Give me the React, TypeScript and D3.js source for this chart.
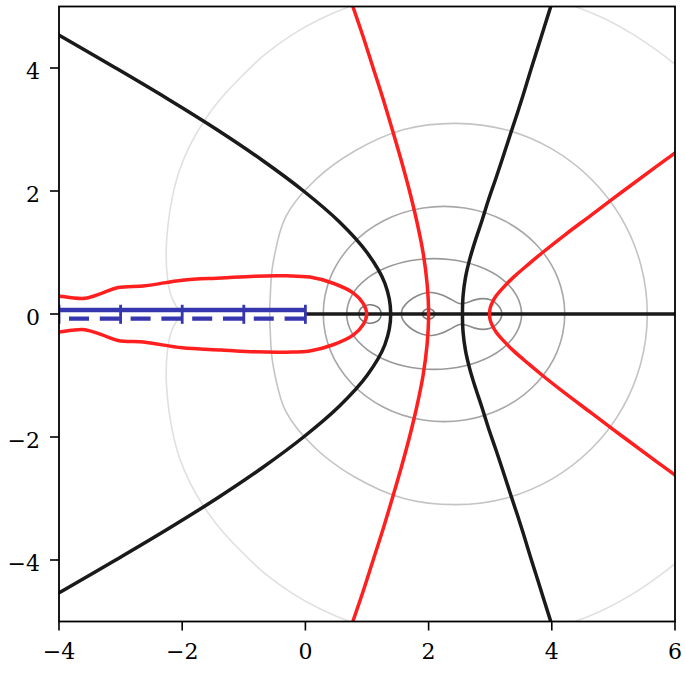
import React from 'react';
import * as d3 from 'd3';

type Pt = [number, number];

// axis ticks
const xTicks = [-4, -2, 0, 2, 4, 6];
const yTicks = [-4, -2, 0, 2, 4];
const cutTicks = [-4, -3, -2, -1, 0];

// upper halves (y >= 0), the picture is mirrored about y = 0
const blackLeft: Pt[] = [
  [-4.12, 4.6], [-3.94, 4.5], [-3.08, 4.0], [-2.24, 3.5], [-1.44, 3.0], [-0.7, 2.5], [-0.03, 2.0],
  [0.55, 1.5], [1.0, 1.0], [1.29, 0.5], [1.385, 0],
];
const blackRight: Pt[] = [
  [4.05, 5.2], [3.98, 4.99], [3.82, 4.48], [3.66, 3.97], [3.5, 3.45], [3.33, 2.93], [3.19, 2.5],
  [3.09, 2.2], [2.97, 1.85], [2.86, 1.5], [2.76, 1.2], [2.67, 0.9], [2.6, 0.6], [2.56, 0.3], [2.55, 0],
];
const redMid: Pt[] = [
  [0.7, 5.2], [0.77, 5.0], [0.94, 4.5], [1.1, 4.0], [1.26, 3.5], [1.41, 3.0], [1.555, 2.5],
  [1.69, 2.0], [1.81, 1.5], [1.91, 1.0], [1.975, 0.5], [2.0, 0],
];
const redLeft: Pt[] = [
  [-4.05, 0.3], [-3.98, 0.29], [-3.8, 0.265], [-3.58, 0.255], [-3.3, 0.34], [-3.04, 0.43], [-2.6, 0.46],
  [-2.0, 0.55], [-1.36, 0.585], [-0.82, 0.615], [-0.3, 0.62], [0.07, 0.6], [0.45, 0.5], [0.78, 0.34],
  [0.94, 0.17], [0.995, 0],
];
const redRight: Pt[] = [
  [6.25, 2.8], [5.7, 2.4], [5.16, 2.0], [4.63, 1.6], [4.23, 1.3], [3.85, 1.0], [3.61, 0.8],
  [3.38, 0.6], [3.23, 0.45], [3.1, 0.3], [3.04, 0.2], [3.0, 0.1], [2.99, 0],
];

// |f| contours, outermost first
const contourA1: Pt[] = [
  [1.2, 5.15], [0.72, 5.0], [0.25, 4.8], [-0.2, 4.55], [-0.68, 4.2], [-1.05, 3.85], [-1.4, 3.47],
  [-1.65, 3.13], [-1.87, 2.75], [-2.04, 2.35], [-2.16, 1.9], [-2.23, 1.45], [-2.26, 1.0], [-2.24, 0.6],
  [-2.18, 0.3], [-2.1, 0.13], [-2.0, 0],
];
const contourA2: Pt[] = [
  [4.0, 5.12], [4.38, 5.0], [4.86, 4.8], [5.3, 4.56], [5.7, 4.29], [6.0, 4.06], [6.1, 3.97],
];
const contourB: Pt[] = [
  [5.55, 0], [5.445, 0.8], [5.135, 1.55], [4.642, 2.192], [4.0, 2.685], [3.252, 2.995], [2.45, 3.1],
  [1.6, 3.0], [0.8, 2.65], [0.15, 2.17], [-0.32, 1.58], [-0.53, 0.8], [-0.57, 0.3], [-0.58, 0],
];
const contourC: Pt[] = [
  [4.21, 0], [4.092, 0.599], [3.751, 1.125], [3.23, 1.516], [2.59, 1.723], [1.91, 1.723], [1.27, 1.516],
  [0.749, 1.125], [0.408, 0.599], [0.29, 0],
];
const contourE: Pt[] = [
  [3.51, 0], [3.424, 0.308], [3.178, 0.579], [2.8, 0.779], [2.337, 0.886], [1.843, 0.886], [1.38, 0.779],
  [1.002, 0.579], [0.756, 0.308], [0.67, 0],
];
const contourD: Pt[] = [
  [3.19, 0], [3.17, 0.08], [3.1, 0.17], [3.0, 0.23], [2.88, 0.25], [2.75, 0.23], [2.6, 0.18],
  [2.5, 0.17], [2.38, 0.23], [2.22, 0.31], [2.05, 0.35], [1.9, 0.33], [1.75, 0.26], [1.63, 0.16],
  [1.57, 0.07], [1.56, 0],
];
const ring1: Pt[] = [[1.23, 0], [1.2, 0.09], [1.12, 0.14], [1.03, 0.15], [0.94, 0.12], [0.88, 0.06], [0.87, 0]];
const ring2: Pt[] = [[2.1, 0], [2.07, 0.06], [2.0, 0.085], [1.93, 0.06], [1.9, 0]];

const flip = (p: Pt): Pt => [p[0], -p[1]];
// pts end on the axis: continue into the mirrored lower half
const joinMirror = (pts: Pt[]): Pt[] => [...pts, ...pts.slice(0, -1).reverse().map(flip)];
// closed loop: upper half from right axis point to left axis point, then the lower half back
const closeMirror = (pts: Pt[]): Pt[] => [...pts, ...pts.slice(1, -1).reverse().map(flip)];

export default function App() {
  const width = 685;
  const height = 674;
  const left = 59, right = 675, top = 6.5, bottom = 621.5;

  const x = d3.scaleLinear().domain([-4, 6]).range([left, right]);
  const y = d3.scaleLinear().domain([-5, 5]).range([bottom, top]);

  const line = d3.line<Pt>()
    .x(d => x(d[0]))
    .y(d => y(d[1]))
    .curve(d3.curveCatmullRom.alpha(0.5));
  const closed = d3.line<Pt>()
    .x(d => x(d[0]))
    .y(d => y(d[1]))
    .curve(d3.curveCatmullRomClosed.alpha(0.5));

  const contours: { d: string; color: string }[] = [
    { d: line(joinMirror(contourA1)) || '', color: '#e0e0e0' },
    { d: line(contourA2) || '', color: '#e0e0e0' },
    { d: line(contourA2.map(flip)) || '', color: '#e0e0e0' },
    { d: closed(closeMirror(contourB)) || '', color: '#c4c4c4' },
    { d: closed(closeMirror(contourC)) || '', color: '#a8a8a8' },
    { d: closed(closeMirror(contourE)) || '', color: '#999999' },
    { d: closed(closeMirror(contourD)) || '', color: '#8a8a8a' },
    { d: closed(closeMirror(ring1)) || '', color: '#7a7a7a' },
    { d: closed(closeMirror(ring2)) || '', color: '#7a7a7a' },
  ];

  const blacks = [joinMirror(blackLeft), joinMirror(blackRight)];
  const reds = [joinMirror(redLeft), joinMirror(redMid), joinMirror(redRight)];

  const font = 'DejaVu Serif';
  const blue = '#3636ae';
  const tickLen = 9;
  const fmt = (t: number) => (t < 0 ? '\u2212' + Math.abs(t) : String(t));

  return (
    <svg width={width} height={height} style={{ position: 'absolute', left: 0, top: 0, background: '#fff' }}>
      <defs>
        <clipPath id="plot">
          <rect x={left} y={top} width={right - left} height={bottom - top} />
        </clipPath>
      </defs>
      <g clipPath="url(#plot)" fill="none">
        {contours.map((c, i) => (
          <path key={'c' + i} d={c.d} stroke={c.color} strokeWidth={1.6} />
        ))}
        <line x1={x(0)} x2={x(6)} y1={y(0)} y2={y(0)} stroke="#1a1a1a" strokeWidth={3.5} />
        {blacks.map((p, i) => (
          <path key={'b' + i} d={line(p) || ''} stroke="#1a1a1a" strokeWidth={3.5} strokeLinejoin="round" />
        ))}
        {reds.map((p, i) => (
          <path key={'r' + i} d={line(p) || ''} stroke="#ff1f1f" strokeWidth={3.5} strokeLinejoin="round" />
        ))}
        <line x1={x(-4)} x2={x(0)} y1={y(0.065)} y2={y(0.065)} stroke={blue} strokeWidth={4.4} />
        <line x1={x(-4)} x2={x(0)} y1={y(-0.075)} y2={y(-0.075)} stroke={blue} strokeWidth={4.4}
          strokeDasharray="20 10.8" strokeDashoffset={20.8} />
        {cutTicks.map(t => (
          <line key={'ct' + t} x1={x(t)} x2={x(t)} y1={y(0.15)} y2={y(-0.16)} stroke={blue} strokeWidth={2.8} />
        ))}
      </g>
      <rect x={left} y={top} width={right - left} height={bottom - top} fill="none" stroke="#000" strokeWidth={1.8} />
      {xTicks.map(t => (
        <g key={'xt' + t}>
          <line x1={x(t)} x2={x(t)} y1={bottom} y2={bottom + tickLen} stroke="#000" strokeWidth={1.6} />
          <text x={x(t)} y={bottom + 37} textAnchor="middle" fill="#000"
            style={{ fontFamily: font, fontSize: '22px' }}>{fmt(t)}</text>
        </g>
      ))}
      {yTicks.map(t => (
        <g key={'yt' + t}>
          <line x1={left - tickLen} x2={left} y1={y(t)} y2={y(t)} stroke="#000" strokeWidth={1.6} />
          <text x={left - tickLen - 10} y={y(t) + 11} textAnchor="end" fill="#000"
            style={{ fontFamily: font, fontSize: '22px' }}>{fmt(t)}</text>
        </g>
      ))}
    </svg>
  );
}
